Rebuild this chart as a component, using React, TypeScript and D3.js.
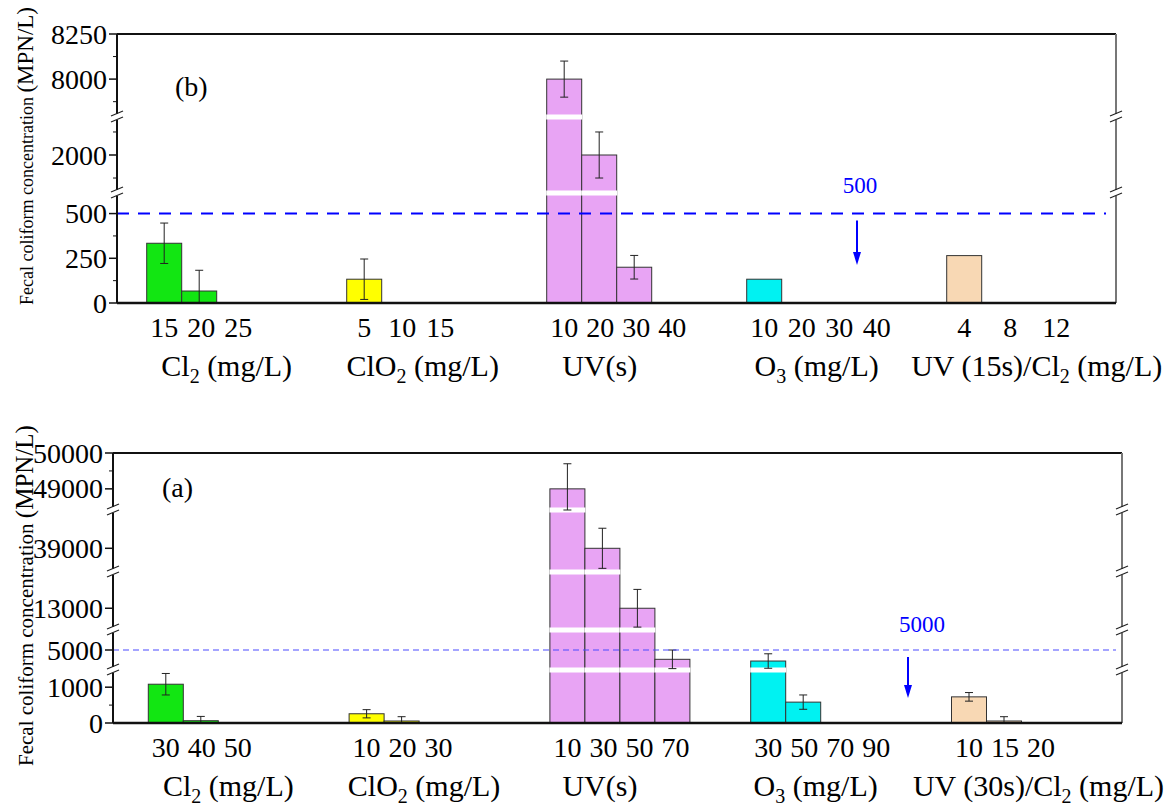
import React from 'react';
import * as d3 from 'd3';

// treatment groups (same order in both panels)
const groupKeys = ['Cl2', 'ClO2', 'UV', 'O3', 'UVCl2'];
const groupColors = ['#12e612', '#ffff00', '#e8a4f4', '#00f2f2', '#f8d8b4'];

// panel (b)
const titlesB = [['Cl', '2', ' (mg/L)'], ['ClO', '2', ' (mg/L)'], ['UV(s)', '', ''], ['O', '3', ' (mg/L)'], ['UV (15s)/Cl', '2', ' (mg/L)']];
const doseLabelsB = [['15', '20', '25'], ['5', '10', '15'], ['10', '20', '30', '40'], ['10', '20', '30', '40'], ['4', '8', '12']];
const valuesB = [[334, 67, 0], [133, 0, 0], [8000, 2000, 200, 0], [133, 0, 0, 0], [265, 0, 0]];
const errorsB = [[113, 116, 0], [113, 0, 0], [100, 500, 66, 0], [0, 0, 0, 0], [0, 0, 0]];
const segmentsB = [[0, 615], [1175, 2825], [7790, 8250]];
const yTicksB = [0, 250, 500, 2000, 8000, 8250];
const yMinorB = [125, 375, 1500, 2500, 7875, 8125];
const thresholdB = 500;

// panel (a)
const titlesA = [['Cl', '2', ' (mg/L)'], ['ClO', '2', ' (mg/L)'], ['UV(s)', '', ''], ['O', '3', ' (mg/L)'], ['UV (30s)/Cl', '2', ' (mg/L)']];
const doseLabelsA = [['30', '40', '50'], ['10', '20', '30'], ['10', '30', '50', '70'], ['30', '50', '70', '90'], ['10', '15', '20']];
const valuesA = [[1083, 64, 0], [258, 56, 0], [49000, 39000, 13000, 4730], [4680, 583, 0, 0], [730, 56, 0]];
const errorsA = [[300, 120, 0], [115, 120, 0], [700, 550, 520, 270], [210, 200, 0, 0], [120, 120, 0]];
const segmentsA = [[0, 1480], [4420, 5580], [12400, 14000], [38350, 40050], [48410, 50000]];
const yTicksA = [0, 1000, 5000, 13000, 39000, 49000, 50000];
const yMinorA = [500, 49500];
const thresholdA = 5000;

const FONT = '"Liberation Serif", "Times New Roman", serif';

type PanelProps = {
  letter: string;
  titles: string[][];
  doseLabels: string[][];
  values: number[][];
  errors: number[][];
  segments: number[][];
  yTicks: number[];
  yMinor: number[];
  threshold: number;
  left: number;
  right: number;
  segPx: number[];
  groupStart: number;
  groupStep: number;
  labelSteps: number[];
  titleOffsets: number[];
  tickBaseline: number;
  titleBaseline: number;
  letterPos: number[];
  thrLabelPos: number[];
  arrowX: number;
  arrowEnd: number;
  dashStyle: { stroke: string; width: number; dash: string; end: number };
  yTitleSizes: number[];
  yTitleStart: number;
};

const Panel = (p: PanelProps) => {
  const barW = 35;
  const bottom = p.segPx[0];
  const top = p.segPx[p.segPx.length - 1];
  const breaks = p.segPx.slice(1, -1);

  const scales = p.segments.map((seg, i) =>
    d3.scaleLinear().domain(seg).range([p.segPx[i], p.segPx[i + 1]])
  );
  const y = (v: number) => {
    for (let i = 0; i < p.segments.length; i++) {
      if (v <= p.segments[i][1]) return scales[i](Math.max(v, p.segments[i][0]));
    }
    return scales[scales.length - 1](v);
  };

  const gx = d3
    .scaleBand()
    .domain(groupKeys)
    .range([p.groupStart, p.groupStart + groupKeys.length * p.groupStep])
    .padding(0);

  const breakMark = (x: number, yb: number, key: string) => (
    <g key={key}>
      <rect x={x - 3} y={yb - 3} width={6} height={6} fill="#fff" />
      <line x1={x - 6} y1={yb - 1} x2={x + 6} y2={yb - 6} stroke="#222" strokeWidth={1.2} />
      <line x1={x - 6} y1={yb + 5} x2={x + 6} y2={yb} stroke="#222" strokeWidth={1.2} />
    </g>
  );

  const thrY = y(p.threshold);

  return (
    <g fontFamily={FONT}>
      {/* bars */}
      {groupKeys.map((g, gi) =>
        p.values[gi].map((v, i) => {
          if (v <= 0) return null;
          const x = (gx(g) as number) + i * barW;
          const yt = y(v);
          return (
            <g key={`bar-${g}-${i}`}>
              <rect x={x} y={yt} width={barW} height={bottom - yt} fill={groupColors[gi]} stroke="#333" strokeWidth={1} />
              {breaks
                .filter(b => b > yt)
                .map(b => (
                  <rect key={b} x={x - 0.5} y={b - 2.5} width={barW + 1} height={5} fill="#fff" />
                ))}
            </g>
          );
        })
      )}

      {/* error bars */}
      {groupKeys.map((g, gi) =>
        p.values[gi].map((v, i) => {
          const e = p.errors[gi][i];
          if (!e) return null;
          const cx = (gx(g) as number) + i * barW + barW / 2;
          const y1 = y(v + e);
          const y2 = y(Math.max(0, v - e));
          return (
            <g key={`err-${g}-${i}`} stroke="#222" strokeWidth={1}>
              <line x1={cx} x2={cx} y1={y1} y2={y2} />
              <line x1={cx - 4} x2={cx + 4} y1={y1} y2={y1} />
              {v - e > 0 && <line x1={cx - 4} x2={cx + 4} y1={y2} y2={y2} />}
            </g>
          );
        })
      )}

      {/* threshold */}
      <line x1={p.left} x2={p.dashStyle.end} y1={thrY} y2={thrY} stroke={p.dashStyle.stroke} strokeWidth={p.dashStyle.width} strokeDasharray={p.dashStyle.dash} />
      <text x={p.thrLabelPos[0]} y={p.thrLabelPos[1]} fontSize={23} fill="#0000ff" textAnchor="middle">
        {p.threshold}
      </text>
      <line x1={p.arrowX} x2={p.arrowX} y1={thrY + 7} y2={p.arrowEnd - 10} stroke="#0000ff" strokeWidth={2} />
      <path d={`M${p.arrowX - 4},${p.arrowEnd - 13} L${p.arrowX + 4},${p.arrowEnd - 13} L${p.arrowX},${p.arrowEnd} Z`} fill="#0000ff" />

      {/* frame */}
      <line x1={p.left} x2={p.right} y1={top} y2={top} stroke="#111" strokeWidth={2} />
      <line x1={p.right} x2={p.right} y1={top} y2={bottom} stroke="#777" strokeWidth={2} />
      <line x1={p.left} x2={p.right} y1={bottom} y2={bottom} stroke="#111" strokeWidth={2.5} />
      <line x1={p.left} x2={p.left} y1={top} y2={bottom} stroke="#111" strokeWidth={2} />

      {/* y ticks */}
      {p.yTicks.map(t => (
        <g key={`yt-${t}`}>
          <line x1={p.left - 8} x2={p.left} y1={y(t)} y2={y(t)} stroke="#111" strokeWidth={1.5} />
          <text x={p.left - 10} y={y(t)} dy="0.34em" fontSize={28} textAnchor="end" fill="#000">
            {t}
          </text>
        </g>
      ))}
      {p.yMinor.map(t => (
        <line key={`ym-${t}`} x1={p.left - 4} x2={p.left} y1={y(t)} y2={y(t)} stroke="#111" strokeWidth={1} />
      ))}

      {/* axis breaks */}
      {breaks.map((b, i) => breakMark(p.left, b, `bl-${i}`))}
      {breaks.map((b, i) => breakMark(p.right, b, `br-${i}`))}

      {/* dose labels and group titles */}
      {groupKeys.map((g, gi) => (
        <g key={`lab-${g}`}>
          {p.doseLabels[gi].map((d, i) => (
            <text
              key={d + i}
              x={(gx(g) as number) + barW / 2 + i * p.labelSteps[gi]}
              y={p.tickBaseline}
              fontSize={28}
              textAnchor="middle"
            >
              {d}
            </text>
          ))}
          <text x={(gx(g) as number) + p.titleOffsets[gi]} y={p.titleBaseline} fontSize={30} textAnchor="middle">
            {p.titles[gi][0]}
            {p.titles[gi][1] && (
              <tspan fontSize={20} dy={7}>
                {p.titles[gi][1]}
              </tspan>
            )}
            {p.titles[gi][1] ? <tspan dy={-7}>{p.titles[gi][2]}</tspan> : null}
          </text>
        </g>
      ))}

      <text x={p.letterPos[0]} y={p.letterPos[1]} fontSize={28}>
        {p.letter}
      </text>

      <text transform={`translate(33,${p.yTitleStart}) rotate(-90)`} fill="#000">
        <tspan fontSize={p.yTitleSizes[0]}>Fecal coliform concentration </tspan>
        <tspan fontSize={p.yTitleSizes[1]}>(MPN/L)</tspan>
      </text>
    </g>
  );
};

const App = () => {
  return (
    <svg
      width={1171}
      height={807}
      style={{ position: 'absolute', left: 0, top: 0, background: '#fff' }}
    >
      <Panel
        letter="(b)"
        titles={titlesB}
        doseLabels={doseLabelsB}
        values={valuesB}
        errors={errorsB}
        segments={segmentsB}
        yTicks={yTicksB}
        yMinor={yMinorB}
        threshold={thresholdB}
        left={117}
        right={1116}
        segPx={[303, 193, 117, 34]}
        groupStart={146.7}
        groupStep={200}
        labelSteps={[37, 38, 36, 37.5, 46]}
        titleOffsets={[80, 76, 53, 70, 90]}
        tickBaseline={337}
        titleBaseline={376}
        letterPos={[175, 96]}
        thrLabelPos={[860, 193]}
        arrowX={857}
        arrowEnd={265}
        dashStyle={{ stroke: '#0000ff', width: 2, dash: '12,9', end: 1106 }}
        yTitleSizes={[18, 23]}
        yTitleStart={305}
      />
      <Panel
        letter="(a)"
        titles={titlesA}
        doseLabels={doseLabelsA}
        values={valuesA}
        errors={errorsA}
        segments={segmentsA}
        yTicks={yTicksA}
        yMinor={yMinorA}
        threshold={thresholdA}
        left={113}
        right={1122}
        segPx={[723, 670, 630, 572, 510, 453]}
        groupStart={148.3}
        groupStep={200.8}
        labelSteps={[36, 36, 36, 36, 36]}
        titleOffsets={[80, 75, 50, 65, 87]}
        tickBaseline={757}
        titleBaseline={796}
        letterPos={[162, 497]}
        thrLabelPos={[922, 632]}
        arrowX={908}
        arrowEnd={698}
        dashStyle={{ stroke: '#4a4aff', width: 1.2, dash: '6,4', end: 1116 }}
        yTitleSizes={[21, 25]}
        yTitleStart={766}
      />
    </svg>
  );
};

export default App;
